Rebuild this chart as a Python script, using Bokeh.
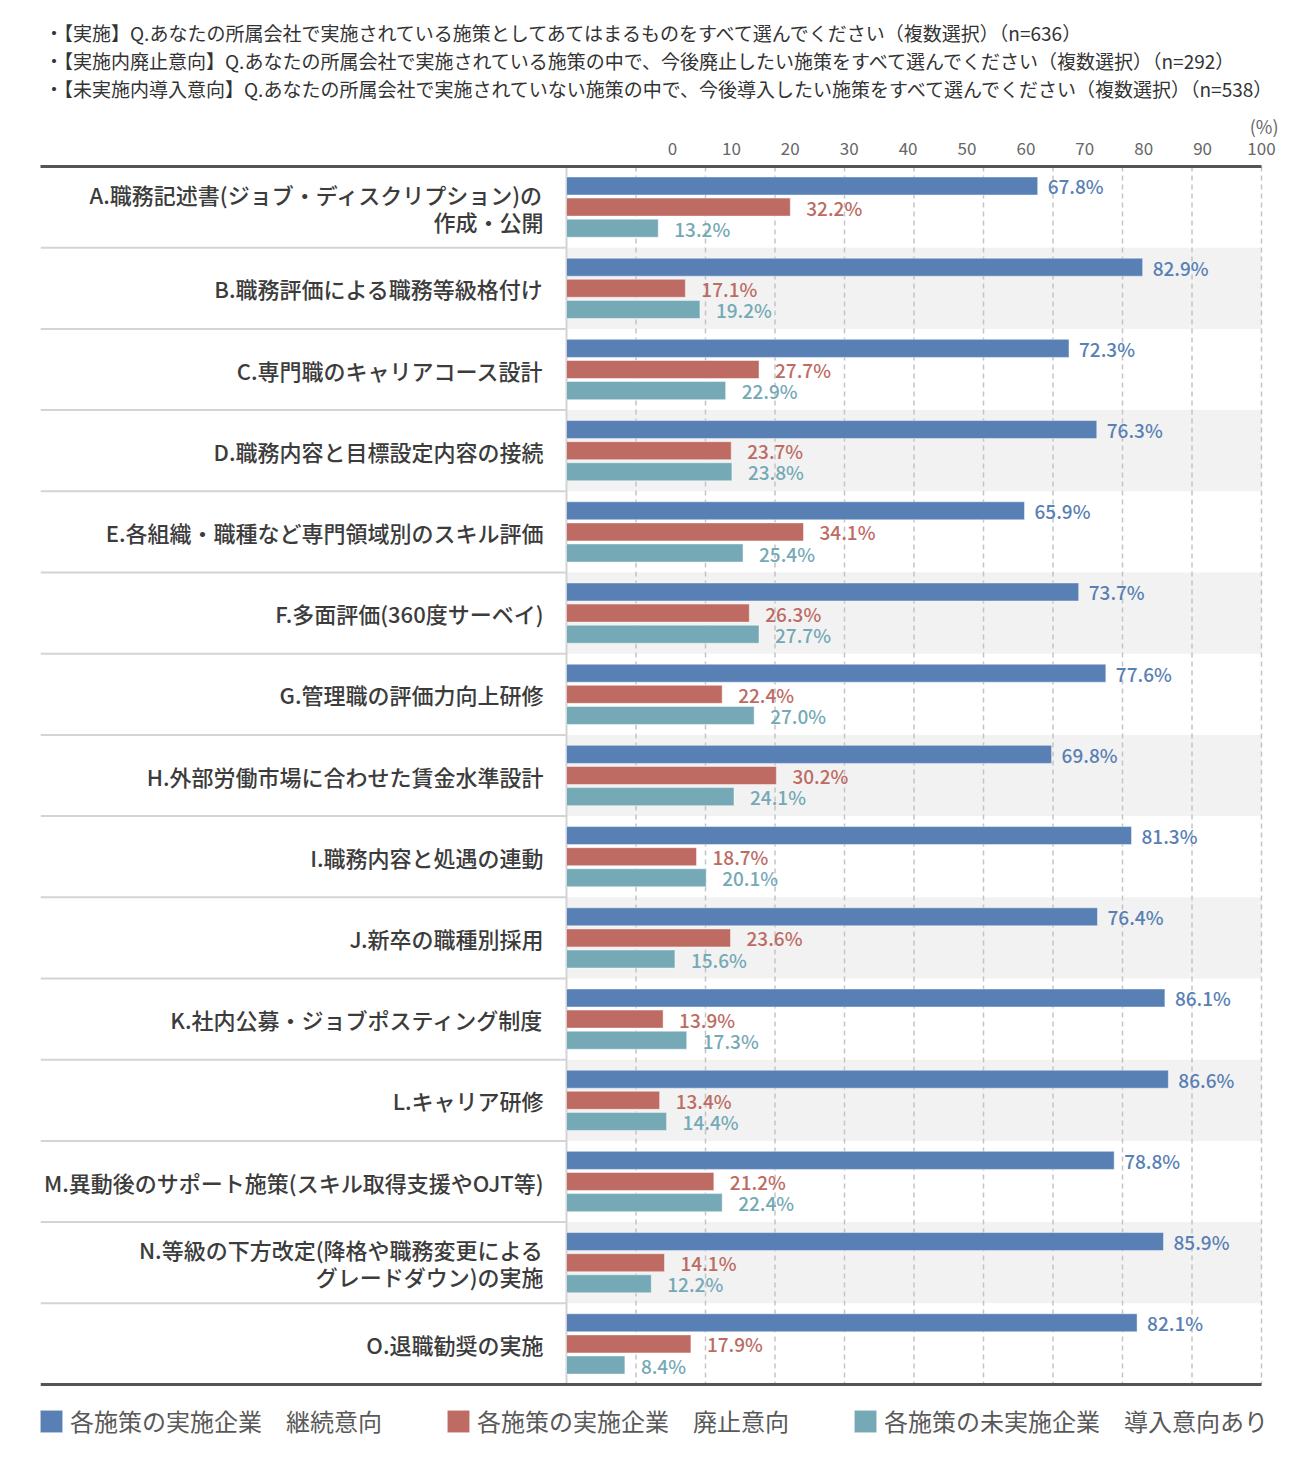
from bokeh.plotting import figure
from bokeh.models import (Range1d, LinearAxis, FixedTicker, Title, Legend, LegendItem,
                          ColumnDataSource)
from bokeh.core.properties import value
from bokeh.embed import file_html
from bokeh.resources import INLINE

# ---------------- data ----------------
categories = [
    "A.職務記述書(ジョブ・ディスクリプション)の\n作成・公開",
    "B.職務評価による職務等級格付け",
    "C.専門職のキャリアコース設計",
    "D.職務内容と目標設定内容の接続",
    "E.各組織・職種など専門領域別のスキル評価",
    "F.多面評価(360度サーベイ)",
    "G.管理職の評価力向上研修",
    "H.外部労働市場に合わせた賃金水準設計",
    "I.職務内容と処遇の連動",
    "J.新卒の職種別採用",
    "K.社内公募・ジョブポスティング制度",
    "L.キャリア研修",
    "M.異動後のサポート施策(スキル取得支援やOJT等)",
    "N.等級の下方改定(降格や職務変更による\nグレードダウン)の実施",
    "O.退職勧奨の実施",
]
continue_vals = [67.8, 82.9, 72.3, 76.3, 65.9, 73.7, 77.6, 69.8, 81.3, 76.4, 86.1, 86.6, 78.8, 85.9, 82.1]
abolish_vals = [32.2, 17.1, 27.7, 23.7, 34.1, 26.3, 22.4, 30.2, 18.7, 23.6, 13.9, 13.4, 21.2, 14.1, 17.9]
introduce_vals = [13.2, 19.2, 22.9, 23.8, 25.4, 27.7, 27.0, 24.1, 20.1, 15.6, 17.3, 14.4, 22.4, 12.2, 8.4]
series_names = ["各施策の実施企業　継続意向", "各施策の実施企業　廃止意向", "各施策の未実施企業　導入意向あり"]
tick_values = list(range(0, 101, 10))
header_lines = [
    "・【実施】Q.あなたの所属会社で実施されている施策としてあてはまるものをすべて選んでください（複数選択）（n=636）",
    "・【実施内廃止意向】Q.あなたの所属会社で実施されている施策の中で、今後廃止したい施策をすべて選んでください（複数選択）（n=292）",
    "・【未実施内導入意向】Q.あなたの所属会社で実施されていない施策の中で、今後導入したい施策をすべて選んでください（複数選択）（n=538）",
]
unit_label = "(%)"

# ---------------- style / layout ----------------
FONT = "Noto Sans CJK JP"
FONT_M = "'Noto Sans CJK JP Medium', 'Noto Sans CJK JP'"
COLORS = ["#5880b5", "#bd6b63", "#74a9b5"]
W, H = 1292, 1462
FRAME_L, PLOT_R, FRAME_R = 40, 1261, 1290
FRAME_T, RULE_B, FRAME_B = 166, 1384, 1458
ZERO_PX = 566
n = len(categories)
ROW_PX = (RULE_B - FRAME_T) / n
PX_PER_UNIT = (PLOT_R - ZERO_PX) / 100.0
X0 = -(ZERO_PX - FRAME_L) / PX_PER_UNIT
X1 = 100 + (FRAME_R - PLOT_R) / PX_PER_UNIT
Y_END = n + (FRAME_B - RULE_B) / ROW_PX
LAB0_PX = 672
LAB_PX = (PLOT_R - LAB0_PX) / 100.0
LAB_START = -(LAB0_PX - FRAME_L) / LAB_PX
LAB_END = 100 + (FRAME_R - PLOT_R) / LAB_PX

rows = list(range(n))
centers = [i + 0.5 for i in rows]

p = figure(width=W, height=H, output_backend="svg", toolbar_location=None,
           x_range=Range1d(X0, X1), y_range=Range1d(Y_END, 0),
           x_axis_location=None, y_axis_location=None,
           min_border_left=FRAME_L, min_border_right=W - FRAME_R,
           min_border_top=FRAME_T, min_border_bottom=H - FRAME_B,
           outline_line_color=None, background_fill_color="white")
p.grid.visible = False

# alternate row shading
shade_rows = [i for i in rows if i % 2 == 1]
p.quad(left=0, right=100, bottom=[i + 1 for i in shade_rows], top=shade_rows,
       fill_color="#f2f2f2", line_color=None)

# separators in label area
p.segment(x0=X0, x1=0, y0=list(range(1, n)), y1=list(range(1, n)),
          line_color="#d4d4d4", line_width=2)

# dashed grid lines
grid_ticks = tick_values[1:]
p.segment(x0=grid_ticks, x1=grid_ticks, y0=0, y1=n,
          line_color="#c4c4c4", line_width=1.5, line_dash="5 4")
p.segment(x0=[0], x1=[0], y0=[0], y1=[n], line_color="#d4d4d4", line_width=2)

# bars
BAR_H = 0.222
offsets = [-0.26, 0.0, 0.26]
label_offsets = [10, 16, 16]
renderers = []
for vals, col, off, lo in zip([continue_vals, abolish_vals, introduce_vals], COLORS, offsets, label_offsets):
    src = ColumnDataSource(dict(y=[c + off for c in centers], v=vals,
                                t=[f"{v:.1f}%" for v in vals]))
    r = p.hbar(y="y", left=0, right="v", height=BAR_H, source=src,
               fill_color=col, line_color="white", line_alpha=0.45, line_width=1)
    renderers.append(r)
    p.text(x="v", y="y", text="t", source=src, x_offset=lo,
           text_font=value(FONT_M), text_font_size="19px", text_color=col,
           text_align="left", text_baseline="middle")

# category labels
p.text(x=[0] * n, y=centers, text=categories, x_offset=-23,
       text_font=value(FONT_M), text_font_size="22px",
       text_color="#3c3c3c", text_align="right", text_baseline="middle",
       text_line_height=0.84)

# bottom rule
p.segment(x0=[X0], x1=[100], y0=[n], y1=[n], line_color="#555555", line_width=3)

# top axis (tick labels)
p.extra_x_ranges = {"lab": Range1d(LAB_START, LAB_END)}
top = LinearAxis(x_range_name="lab", ticker=FixedTicker(ticks=tick_values),
                 bounds=(LAB_START, 100))
top.axis_line_color = "#555555"
top.axis_line_width = 3
top.major_tick_line_color = None
top.minor_tick_line_color = None
top.major_label_text_font = FONT
top.major_label_text_font_size = "17px"
top.major_label_text_color = "#666666"
top.major_label_standoff = 6
p.add_layout(top, "above")

# unit label and header lines (stacked outward from the frame)
p.add_layout(Title(text=unit_label, align="right", offset=12, standoff=0,
                   text_font=FONT, text_font_size="18px", text_font_style="normal",
                   text_color="#666666"), "above")
p.add_layout(Title(text="\n".join(header_lines), align="left", offset=4, standoff=16,
                   text_font=FONT, text_font_size="19px", text_font_style="normal",
                   text_line_height=1.04, text_color="#333333"), "above")

# legend
legend = Legend(items=[LegendItem(label=nm, renderers=[r]) for nm, r in zip(series_names, renderers)],
                location=(-3, 20), orientation="horizontal",
                glyph_width=28, glyph_height=28, label_standoff=5, label_width=374,
                spacing=0, padding=0, margin=0,
                label_text_font=FONT, label_text_font_size="24px", label_text_color="#595959",
                border_line_color=None, background_fill_alpha=0)
p.add_layout(legend)

open("out.html", "w").write(file_html(p, INLINE))
